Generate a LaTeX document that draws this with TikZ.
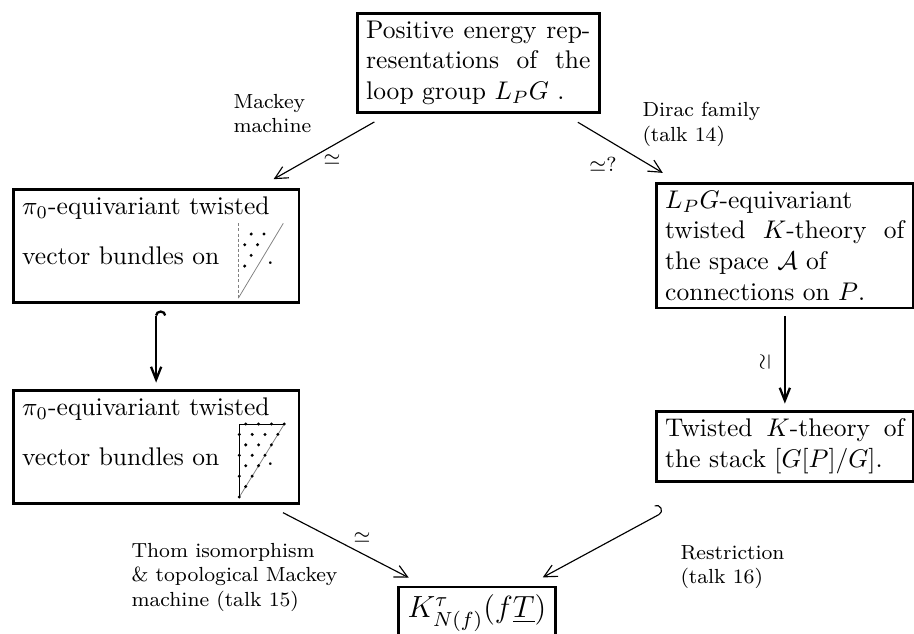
\documentclass[tikz,border=0pt]{standalone}
\usetikzlibrary{arrows.meta}
\newcommand{\trisp}{\rule[-11.8pt]{0pt}{28.6pt}\hspace{13.3pt}}
\begin{document}
\begin{tikzpicture}[x=0.392pt,y=-0.392pt,
 box/.style={draw,line width=1pt,inner xsep=3.5pt,inner ysep=3pt,anchor=north west},
 lab/.style={font=\footnotesize,align=left,inner sep=0pt,anchor=north west},
 eqlab/.style={font=\footnotesize,inner sep=0pt},
 diag/.style={-{Straight Barb[length=5pt,width=5pt]},line width=0.45pt,shorten <=6.5pt,shorten >=7pt},
 vert/.style={-{Straight Barb[length=5pt,width=4pt]},line width=0.9pt,shorten <=2.5pt,shorten >=2.5pt},
 edge1/.style={line width=0.3pt},
 latdot/.style={fill=black},
]
\useasboundingbox (0,0) rectangle (914,633);
\clip (0,0) rectangle (914,633);

% boxes
\node[box,text width=87.9pt,align=justify] (T) at (356,12)
  {Positive energy rep-\linebreak resentations of the\linebreak loop group $L_PG$\ .};
\node[box,text width=105pt,align=left] (A) at (12,188)
  {$\pi_0$-equivariant twisted\\ vector bundles on\ \hspace{2pt}\trisp.};
\node[box,text width=105pt,align=left] (B) at (12,389)
  {$\pi_0$-equivariant twisted\\ vector bundles on\ \hspace{2pt}\trisp.};
\node[box,text width=93.8pt,align=justify] (R1) at (655,182)
  {$L_PG$-equivariant\\ twisted $K$-theory of\linebreak the space $\mathcal{A}$ of\\ connections on $P$.};
\node[box,text width=93.8pt,align=justify] (R2) at (655,410)
  {Twisted $K$-theory of\linebreak the stack $[G[P]/G]$.};
\node[box,anchor=center,font=\large,minimum width=56.5pt,minimum height=19.6pt] (K) at (477,613)
  {$K^{\tau}_{N(f)}(f\underline{T})$};

% connectors
\draw[diag] (T) -- (A);
\draw[diag] (T) -- (R1);
\draw[diag] (B) -- (K);
\draw[line width=0.45pt,{Hooks[left,width=8pt,length=2pt]}-{Straight Barb[length=5pt,width=5pt]},shorten <=24pt,shorten >=7pt] (R2) -- (K);
\draw[vert,{Hooks[right,width=8pt,length=2pt]}-{Straight Barb[length=5pt,width=4pt]}] (A) -- (B);
\draw[vert] (R1) -- (R2);

% labels
\node[lab] (lmack) at (233,94) {Mackey\\machine};
\node[eqlab] (s1) at (332,160) {$\simeq$};
\node[eqlab] (s2) at (603,164) {$\simeq$?};
\node[lab] (ldirac) at (642,102) {Dirac family\\(talk 14)};
\node[eqlab,rotate=90] (s3) at (765,362) {$\simeq$};
\node[eqlab] (s4) at (362,538) {$\simeq$};
\node[lab] (lthom) at (131,543) {Thom isomorphism\\\& topological Mackey\\machine (talk 15)};
\node[lab] (lres) at (680,545) {Restriction\\(talk 16)};

% triangle 1 (interior points)
\begin{scope}[shift={(238.3,223.3)},x=5.041pt,y=-4.194pt]
  \draw[edge1,gray] (3.5,0) -- (0,7);
  \draw[edge1,gray,dash pattern=on 1.2pt off 0.8pt] (0,0) -- (0,7);
  \foreach \p/\q in {1/1,2/1,0.5/2,1.5/2,1/3,0.5/4}
    \fill[latdot] (\p,\q) circle[radius=0.65pt];
\end{scope}

% triangle 2 (closed alcove)
\begin{scope}[shift={(239.3,424)},x=5.041pt,y=-4.089pt]
  \draw[edge1,gray] (3.5,0) -- (0,7);
  \draw[edge1] (3.5,0) -- (0,0) -- (0,7);
  \foreach \p/\q in {0.5/0,1.5/0,2.5/0,3.5/0,0/1,1/1,2/1,3/1,0.5/2,1.5/2,2.5/2,
                     0/3,1/3,2/3,0.5/4,1.5/4,0/5,1/5,0.5/6,0/7}
    \fill[latdot] (\p,\q) circle[radius=0.65pt];
\end{scope}
\end{tikzpicture}
\end{document}
